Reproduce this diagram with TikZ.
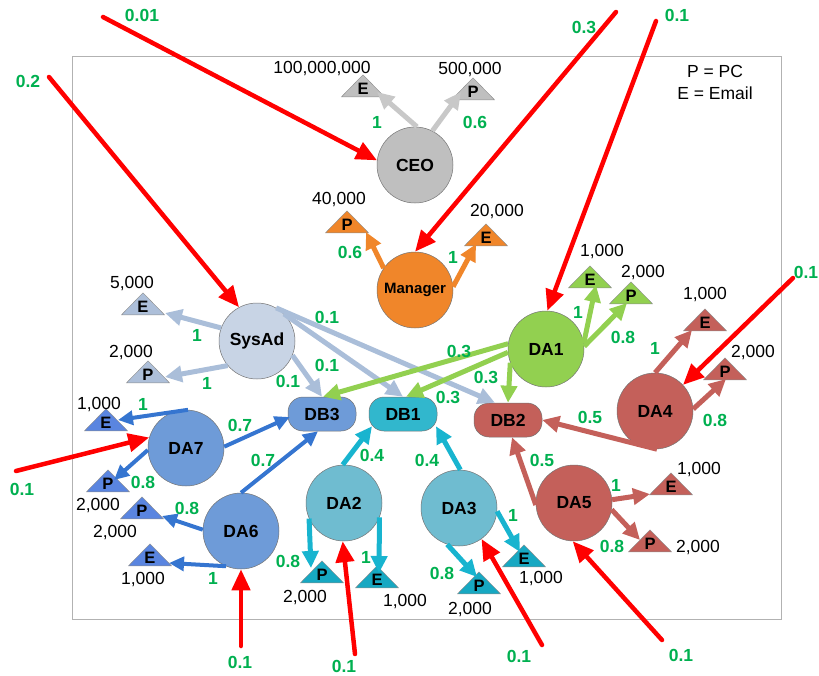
\documentclass[tikz,border=0pt]{standalone}
\usepackage{fontspec}
\setmainfont{Liberation Sans}
\usetikzlibrary{arrows.meta,shapes.geometric,calc}
\definecolor{lgreen}{HTML}{00B050}
\definecolor{cgray}{HTML}{BFBFBF}
\definecolor{agray}{HTML}{C8C8C8}
\definecolor{corange}{HTML}{F0862A}
\definecolor{csys}{HTML}{C8D4E5}
\definecolor{asys}{HTML}{AABED9}
\definecolor{tsys}{HTML}{ADBFD9}
\definecolor{cgreen}{HTML}{92D050}
\definecolor{cbrown}{HTML}{C4605A}
\definecolor{cblue}{HTML}{6E9BD8}
\definecolor{ablue}{HTML}{3575D0}
\definecolor{tblue}{HTML}{5A85E0}
\definecolor{ccyan}{HTML}{6FBCD0}
\definecolor{dcyan}{HTML}{31B7CD}
\definecolor{acyan}{HTML}{18B4CF}
\definecolor{tcyan}{HTML}{17A8C2}
\newcommand\mytri[6]{%
  \node[tri, fill=#6] (#1) at (#2,#3) {};
  \node[tl] (#1l) at ([yshift=3pt]#1.lower side) {#4};
  \node[num] (#1n) at #5 {};}
\begin{document}
\begin{tikzpicture}[x=1pt,y=-1pt,
  circ/.style={circle, draw=black!55, line width=0.5pt, minimum size=76pt, inner sep=0pt, font=\bfseries\fontsize{17.5}{17.5}\selectfont},
  dbox/.style={rectangle, rounded corners=15pt, draw=black!55, line width=0.5pt, minimum width=68pt, minimum height=34pt, inner sep=0pt, font=\bfseries\fontsize{17.5}{17.5}\selectfont},
  tri/.style={isosceles triangle, isosceles triangle stretches, shape border rotate=90, minimum width=43pt, minimum height=22pt, inner sep=0pt, draw=black!45, line width=0.4pt, anchor=lower side},
  tl/.style={font=\bfseries\fontsize{16.5}{16.5}\selectfont, anchor=base, inner sep=0pt},
  num/.style={font=\fontsize{17.5}{17.5}\selectfont, inner sep=0pt},
  gl/.style={text=lgreen, font=\bfseries\fontsize{17.5}{17.5}\selectfont, inner sep=0pt},
  arr/.style={line width=5pt, -{Triangle[length=17pt,width=16pt]}},
  thinarr/.style={line width=4pt, -{Triangle[length=15pt,width=14pt]}},
  redarr/.style={draw=red, line width=4.5pt, line cap=round, -{Triangle[length=21pt,width=18pt]}}]
\useasboundingbox (0,0) rectangle (819,675);
\draw[black!30, line width=1pt] (72,56) rectangle (781,619);

% circles
\node[circ, fill=cgray] (CEO) at (415,165) {CEO};
\node[circ, fill=corange, font=\bfseries\fontsize{15}{15}\selectfont] (Man) at (415,290) {Manager};
\node[circ, fill=csys] (Sys) at (257,341) {SysAd};
\node[circ, fill=cgreen] (DA1) at (546,349) {DA1};
\node[circ, fill=cbrown] (DA4) at (655,411) {DA4};
\node[circ, fill=cblue] (DA7) at (186,448) {DA7};
\node[circ, fill=cblue] (DA6) at (241,531) {DA6};
\node[circ, fill=ccyan] (DA2) at (344,503) {DA2};
\node[circ, fill=ccyan] (DA3) at (459,508) {DA3};
\node[circ, fill=cbrown] (DA5) at (574,503) {DA5};
\node[dbox, fill=cblue] (DB3) at (322,414) {DB3};
\node[dbox, fill=dcyan] (DB1) at (403,414) {DB1};
\node[dbox, fill=cbrown] (DB2) at (508,420) {DB2};

% triangles
\mytri{tCE}{363}{97}{E}{(322,69)}{cgray}
\mytri{tCP}{473}{100}{P}{(470,70)}{cgray}
\mytri{tMP}{347}{233}{P}{(339,200)}{corange}
\mytri{tME}{486}{246}{E}{(497,212)}{corange}
\mytri{tSE}{143}{315}{E}{(132,284)}{tsys}
\mytri{tSP}{148}{383}{P}{(131,353)}{tsys}
\mytri{t1E}{590}{288}{E}{(602,252)}{cgreen}
\mytri{t1P}{631}{304}{P}{(643,273)}{cgreen}
\mytri{t4E}{705}{331}{E}{(705,295)}{cbrown}
\mytri{t4P}{725}{380}{P}{(753,353)}{cbrown}
\mytri{t7E}{106}{431}{E}{(99,405)}{tblue}
\mytri{t7P}{108}{492}{P}{(98,506)}{tblue}
\mytri{t6P}{142}{519}{P}{(115,533)}{tblue}
\mytri{t6E}{150}{566}{E}{(143,580)}{tblue}
\mytri{t2P}{322}{583}{P}{(305,598)}{tcyan}
\mytri{t2E}{377}{588}{E}{(405,601)}{tcyan}
\mytri{t3P}{479}{594}{P}{(470,609)}{tcyan}
\mytri{t3E}{524}{567}{E}{(541,579)}{tcyan}
\mytri{t5E}{671}{495}{E}{(699,470)}{cbrown}
\mytri{t5P}{650}{552}{P}{(698,548)}{cbrown}

% numbers
\node[num] at (tCEn) {100,000,000};
\node[num] at (tCPn) {500,000};
\node[num] at (tMPn) {40,000};
\node[num] at (tMEn) {20,000};
\node[num] at (tSEn) {5,000};
\node[num] at (tSPn) {2,000};
\node[num] at (t1En) {1,000};
\node[num] at (t1Pn) {2,000};
\node[num] at (t4En) {1,000};
\node[num] at (t4Pn) {2,000};
\node[num] at (t7En) {1,000};
\node[num] at (t7Pn) {2,000};
\node[num] at (t6Pn) {2,000};
\node[num] at (t6En) {1,000};
\node[num] at (t2Pn) {2,000};
\node[num] at (t2En) {1,000};
\node[num] at (t3Pn) {2,000};
\node[num] at (t3En) {1,000};
\node[num] at (t5En) {1,000};
\node[num] at (t5Pn) {2,000};

\node[num] (leg1) at (715,71) {P = PC};
\node[num] (leg2) at (715,93) {E = Email};

% coloured arrows
\draw[arr, agray] (CEO.87) -- ([shift={(14,-5)}]tCE.lower side);
\draw[arr, agray] (CEO.63) -- ([shift={(-12,-8)}]tCP.lower side);
\draw[arr, corange] (Man.145) -- ([shift={(19,-1)}]tMP.lower side);
\draw[arr, corange] (Man.5) -- ([shift={(-10,-2)}]tME.lower side);
\draw[arr, asys] (Sys.160) -- ([shift={(22,-2)}]tSE.lower side);
\draw[arr, asys] (Sys.220) -- ([shift={(17,-6)}]tSP.lower side);
\draw[arr, asys] (Sys.338) -- (DB3.north);
\draw[arr, asys] (Sys.45) -- (DB1.north);
\draw[arr, asys] (Sys.60) -- ([shift={(-13,0)}]DB2.north);
\draw[arr, cgreen] (DA1.172) -- ([shift={(1,0)}]DB3.north);
\draw[arr, cgreen] (DA1.185) -- ([shift={(3,0)}]DB1.north);
\draw[arr, cgreen] (DA1.201) -- (DB2.north);
\draw[arr, cgreen] (DA1.9) -- ([shift={(6,-3)}]t1E.lower side);
\draw[arr, cgreen] (DA1.4) -- ([shift={(-4,-1)}]t1P.lower side);
\draw[arr, cbrown] (DA4.90) -- ([shift={(-13,-1)}]t4E.lower side);
\draw[arr, cbrown] (DA4.3) -- ([shift={(1,-1)}]t4P.lower side);
\draw[arr, cbrown] (DA4.273) -- (DB2.east);
\draw[arr, cbrown] (DA5.183) -- ([shift={(4,0)}]DB2.south);
\draw[arr, cbrown] (DA5.5) -- ([shift={(-21,-1)}]t5E.lower side);
\draw[arr, cbrown] (DA5.350) -- ([shift={(-10,-12)}]t5P.lower side);
\draw[thinarr, ablue] (DA7.87) -- ([shift={(12,-11)}]t7E.lower side);
\draw[thinarr, ablue] (DA7.183) -- ([shift={(6,-12)}]t7P.lower side);
\draw[thinarr, ablue] (DA7.2) -- ([shift={(2,3)}]DB3.west);
\draw[thinarr, ablue] (DA6.90) -- ([shift={(-4,0)}]DB3.south);
\draw[thinarr, ablue] (DA6.178) -- ([shift={(20,-3)}]t6P.lower side);
\draw[thinarr, ablue] (DA6.247) -- ([shift={(19,-3)}]t6E.lower side);
\draw[arr, acyan] (DA2.92) -- ([shift={(-31,-5)}]DB1.south);
\draw[arr, acyan] (DA2.204) -- ([shift={(-11,-15)}]t2P.lower side);
\draw[arr, acyan] (DA2.338) -- ([shift={(2,-15)}]t2E.lower side);
\draw[arr, acyan] (DA3.88) -- ([shift={(33,-5)}]DB1.south);
\draw[arr, acyan] (DA3.252) -- ([shift={(-2,-17)}]t3P.lower side);
\draw[arr, acyan] (DA3.355) -- ([shift={(-4,-15)}]t3E.lower side);

% green labels
\node[gl] at (377,122) {1};
\node[gl] at (475,122) {0.6};
\node[gl] at (350,252) {0.6};
\node[gl] at (453,257) {1};
\node[gl] at (197,335) {1};
\node[gl] at (207,383) {1};
\node[gl] at (288,381) {0.1};
\node[gl] at (327,365) {0.1};
\node[gl] at (327,317) {0.1};
\node[gl] at (459,351) {0.3};
\node[gl] at (448,397) {0.3};
\node[gl] at (486,377) {0.3};
\node[gl] at (578,312) {1};
\node[gl] at (623,337) {0.8};
\node[gl] at (655,348) {1};
\node[gl] at (715,420) {0.8};
\node[gl] at (590,417) {0.5};
\node[gl] at (542,460) {0.5};
\node[gl] at (616,485) {1};
\node[gl] at (612,546) {0.8};
\node[gl] at (143,404) {1};
\node[gl] at (143,482) {0.8};
\node[gl] at (240,425) {0.7};
\node[gl] at (263,460) {0.7};
\node[gl] at (187,508) {0.8};
\node[gl] at (213,578) {1};
\node[gl] at (372,455) {0.4};
\node[gl] at (288,561) {0.8};
\node[gl] at (366,557) {1};
\node[gl] at (427,460) {0.4};
\node[gl] at (442,573) {0.8};
\node[gl] at (513,515) {1};

% red attack arrows
\coordinate (s1) at (103,17);
\coordinate (s2) at (616,12);
\coordinate (s3) at (656,21);
\coordinate (s4) at (49,77);
\coordinate (s5) at (793,278);
\coordinate (s6) at (16,471);
\coordinate (s7) at (241,646);
\coordinate (s8) at (355,654);
\coordinate (s9) at (542,645);
\coordinate (s10) at (662,640);
\draw[redarr] (s1) -- (CEO.173);
\draw[redarr] (s2) -- (Man.90);
\draw[redarr] (s3) -- (DA1.88);
\draw[redarr] (s4) -- (Sys.118);
\draw[redarr] (s5) -- (DA4.43);
\draw[redarr] (s6) -- (DA7.164);
\draw[redarr] (s7) -- (DA6.270);
\draw[redarr] (s8) -- (DA2.268);
\draw[redarr] (s9) -- (DA3.306);
\draw[redarr] (s10) -- (DA5.268);
\node[gl] at (142,15) {0.01};
\node[gl] at (584,27) {0.3};
\node[gl] at (677,15) {0.1};
\node[gl] at (28,81) {0.2};
\node[gl] at (806,272) {0.1};
\node[gl] at (22,489) {0.1};
\node[gl] at (240,662) {0.1};
\node[gl] at (344,666) {0.1};
\node[gl] at (519,656) {0.1};
\node[gl] at (681,655) {0.1};
\end{tikzpicture}
\end{document}
